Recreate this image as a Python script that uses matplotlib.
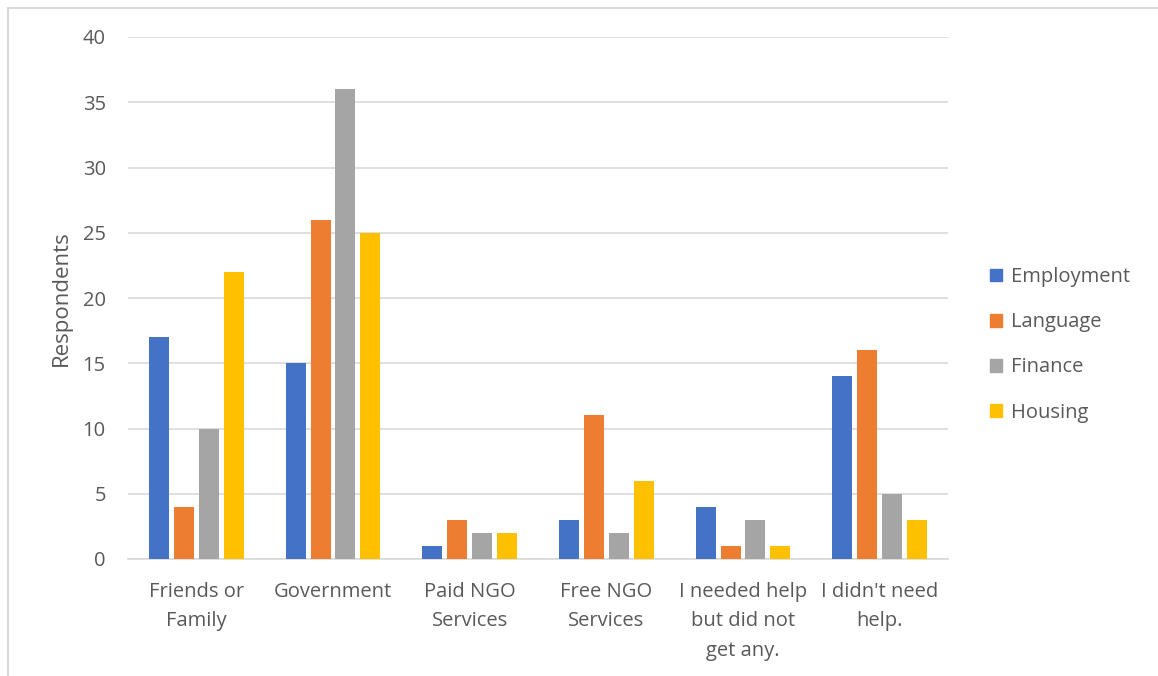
import matplotlib
matplotlib.use("Agg")
import matplotlib.pyplot as plt
import numpy as np
from matplotlib.lines import Line2D

categories = ["Friends or\nFamily", "Government", "Paid NGO\nServices", "Free NGO\nServices",
              "I needed help\nbut did not\nget any.", "I didn't need\nhelp."]
series_names = ["Employment", "Language", "Finance", "Housing"]
employment = [17, 15, 1, 3, 4, 14]
language = [4, 26, 3, 11, 1, 16]
finance = [10, 36, 2, 2, 3, 5]
housing = [22, 25, 2, 6, 1, 3]
colors = ["#4472C4", "#ED7D31", "#A5A5A5", "#FFC000"]
yticks = [0, 5, 10, 15, 20, 25, 30, 35, 40]

plt.rcParams['font.family'] = ['Open Sans', 'DejaVu Sans']
W, H = 1158, 676
fig = plt.figure(figsize=(W / 100, H / 100), dpi=100)
ax = fig.add_axes([128 / W, 1 - 559 / H, 820 / W, 522 / H])

x = np.arange(len(categories))
bw = 0.146
step = 0.182
data = [employment, language, finance, housing]
for i, (vals, name, c) in enumerate(zip(data, series_names, colors)):
    ax.bar(x + (i - 1.5) * step, vals, width=bw, color=c, label=name, zorder=3)

ax.set_xlim(-0.5, len(categories) - 0.5)
ax.set_ylim(0, 40)
ax.set_yticks(yticks)
ax.yaxis.grid(True, color="#D9D9D9", linewidth=1.2, zorder=0)
ax.set_xticks(x)
ax.set_xticklabels(categories, fontsize=14.5, color="#595959", linespacing=1.62)
ax.tick_params(axis='y', labelsize=14.5, labelcolor="#595959", length=0, pad=16)
ax.tick_params(axis='x', length=0, pad=16.5)
for s in ["top", "right", "left"]:
    ax.spines[s].set_visible(False)
ax.spines["bottom"].set_color("#D9D9D9")
ax.spines["bottom"].set_linewidth(1.2)
ax.set_ylabel("Respondents", fontsize=16, color="#595959", labelpad=8)

handles = [plt.Rectangle((0, 0), 1, 1, color=c) for c in colors]
leg = fig.legend(handles, series_names, loc="upper left",
                 bbox_to_anchor=(976 / W, 1 - 253 / H), frameon=False,
                 fontsize=14.5, handlelength=0.6, handleheight=0.6,
                 handletextpad=0.45, labelspacing=1.25, labelcolor="#595959",
                 borderpad=0.2)

# outer border
fig.add_artist(Line2D([8 / W, 8 / W], [0, 1 - 8 / H], transform=fig.transFigure, color="#D9D9D9", lw=1.5))
fig.add_artist(Line2D([8 / W, 1], [1 - 8 / H, 1 - 8 / H], transform=fig.transFigure, color="#D9D9D9", lw=1.5))

fig.savefig("out.png", dpi=100)
